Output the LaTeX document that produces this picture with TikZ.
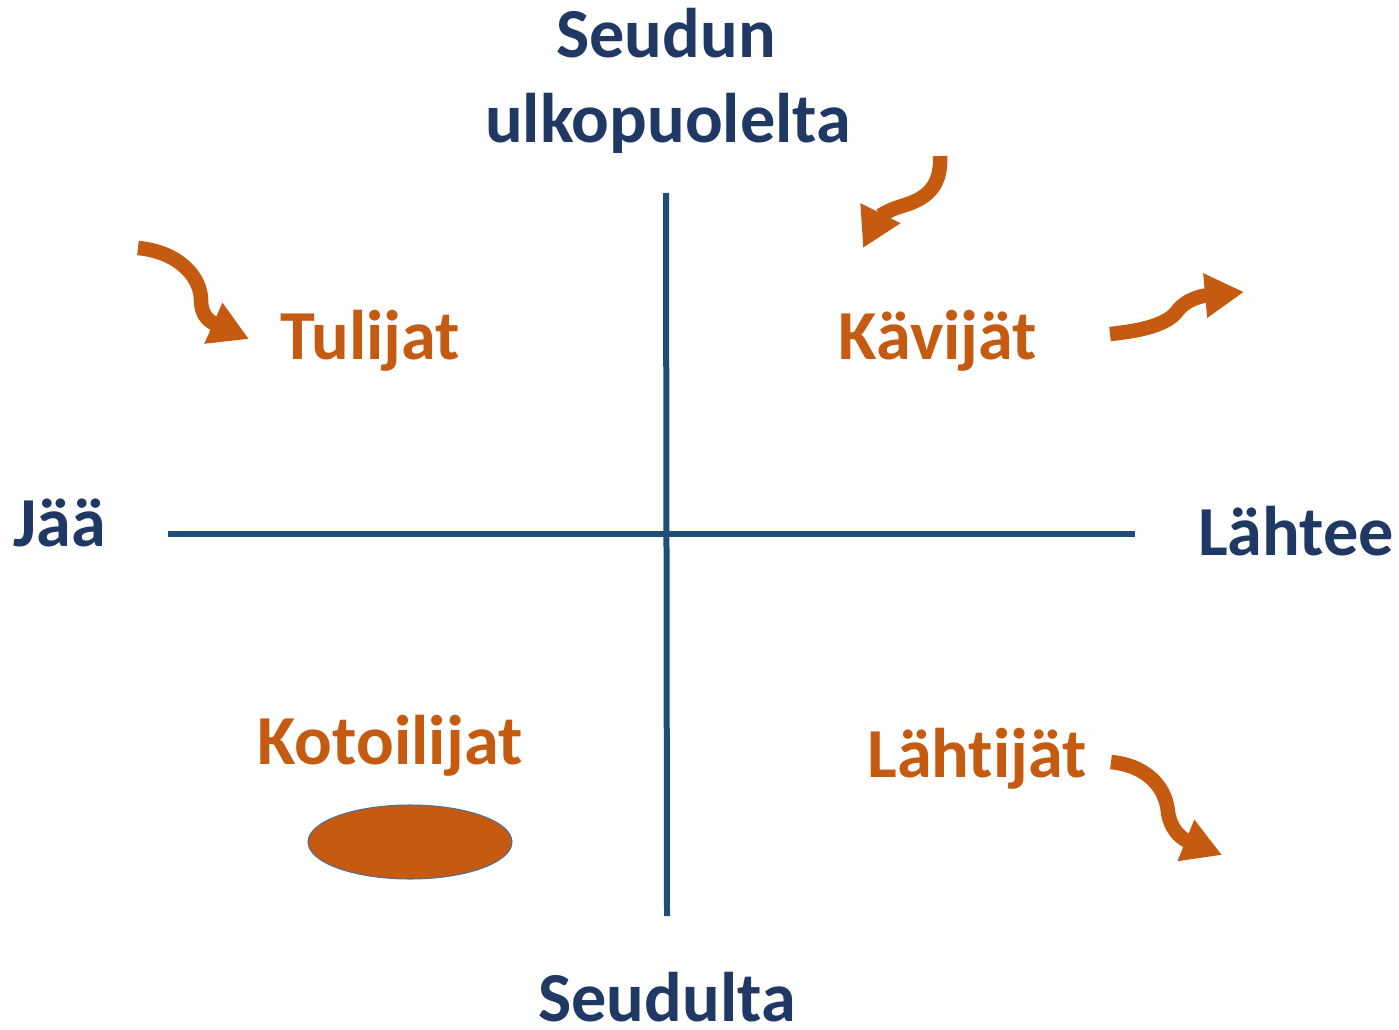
\documentclass[tikz,border=0pt]{standalone}
\usepackage{fontspec}
\setmainfont{Carlito}[Ligatures=NoCommon]
\usetikzlibrary{arrows.meta,shapes.geometric}
\definecolor{axisblue}{HTML}{1F4E79}
\definecolor{textblue}{HTML}{1F3864}
\definecolor{flowor}{HTML}{C55A11}
\newcommand{\bigbold}{\fontsize{40}{48}\selectfont\bfseries}

\begin{document}
\begin{tikzpicture}[x=0.02cm,y=-0.02cm,
    axislabel/.style={font=\bigbold,text=textblue,anchor=base,inner sep=0pt},
    grouplabel/.style={font=\bigbold,text=flowor,anchor=base,inner sep=0pt},
    axisline/.style={draw=axisblue,line width=0.12cm},
    flow/.style={draw=flowor,line width=0.29cm,
        -{Triangle[length=0.78cm,width=0.84cm]}}]
    \useasboundingbox (0,0) rectangle (1399,1030);

    % axes
    \coordinate (top) at (666,193);
    \coordinate (bottom) at (667,916);
    \coordinate (left) at (168,534);
    \coordinate (right) at (1135,534);
    \draw[axisline] (top) -- (bottom);
    \draw[axisline] (left) -- (right);

    \node[axislabel] (seudun) at (666,58) {Seudun};
    \node[axislabel] (ulko) at (668,143) {ulkopuolelta};
    \node[axislabel] (seudulta) at (667,1021) {Seudulta};
    \node[axislabel] (jaa) at (60,546) {Jää};
    \node[axislabel] (lahtee) at (1296,555) {Lähtee};

    \node[grouplabel] (tulijat) at (370,359) {Tulijat};
    \node[grouplabel] (kavijat) at (938,359) {Kävijät};
    \node[grouplabel] (kotoilijat) at (390,764) {Kotoilijat};
    \node[grouplabel] (lahtijat) at (977,777) {Lähtijät};

    \node[ellipse,draw=axisblue!80,fill=flowor,line width=0.6pt,
        minimum width=4.08cm,minimum height=1.48cm,inner sep=0pt]
        (koti) at (410,842) {};

    % flows
    \coordinate (t0) at (138,248);
    \coordinate (t1) at (249,339);
    \draw[flow] (t0) .. controls (180,252) and (201,278) .. (201,300)
        .. controls (201,312) and (206,320) .. (t1);
    \coordinate (k0) at (940,156);
    \coordinate (k1) at (863,248);
    \draw[flow] (k0) .. controls (942,190) and (922,200) .. (902,206)
        .. controls (885,211) and (878,218) .. (k1);
    \coordinate (r0) at (1110,334);
    \coordinate (r1) at (1244,292);
    \draw[flow] (r0) .. controls (1150,330) and (1170,322) .. (1178,310)
        .. controls (1186,300) and (1200,296) .. (r1);
    \coordinate (l0) at (1111,762);
    \coordinate (l1) at (1222,855);
    \draw[flow] (l0) .. controls (1150,766) and (1166,790) .. (1168,812)
        .. controls (1170,828) and (1180,838) .. (l1);
\end{tikzpicture}
\end{document}
